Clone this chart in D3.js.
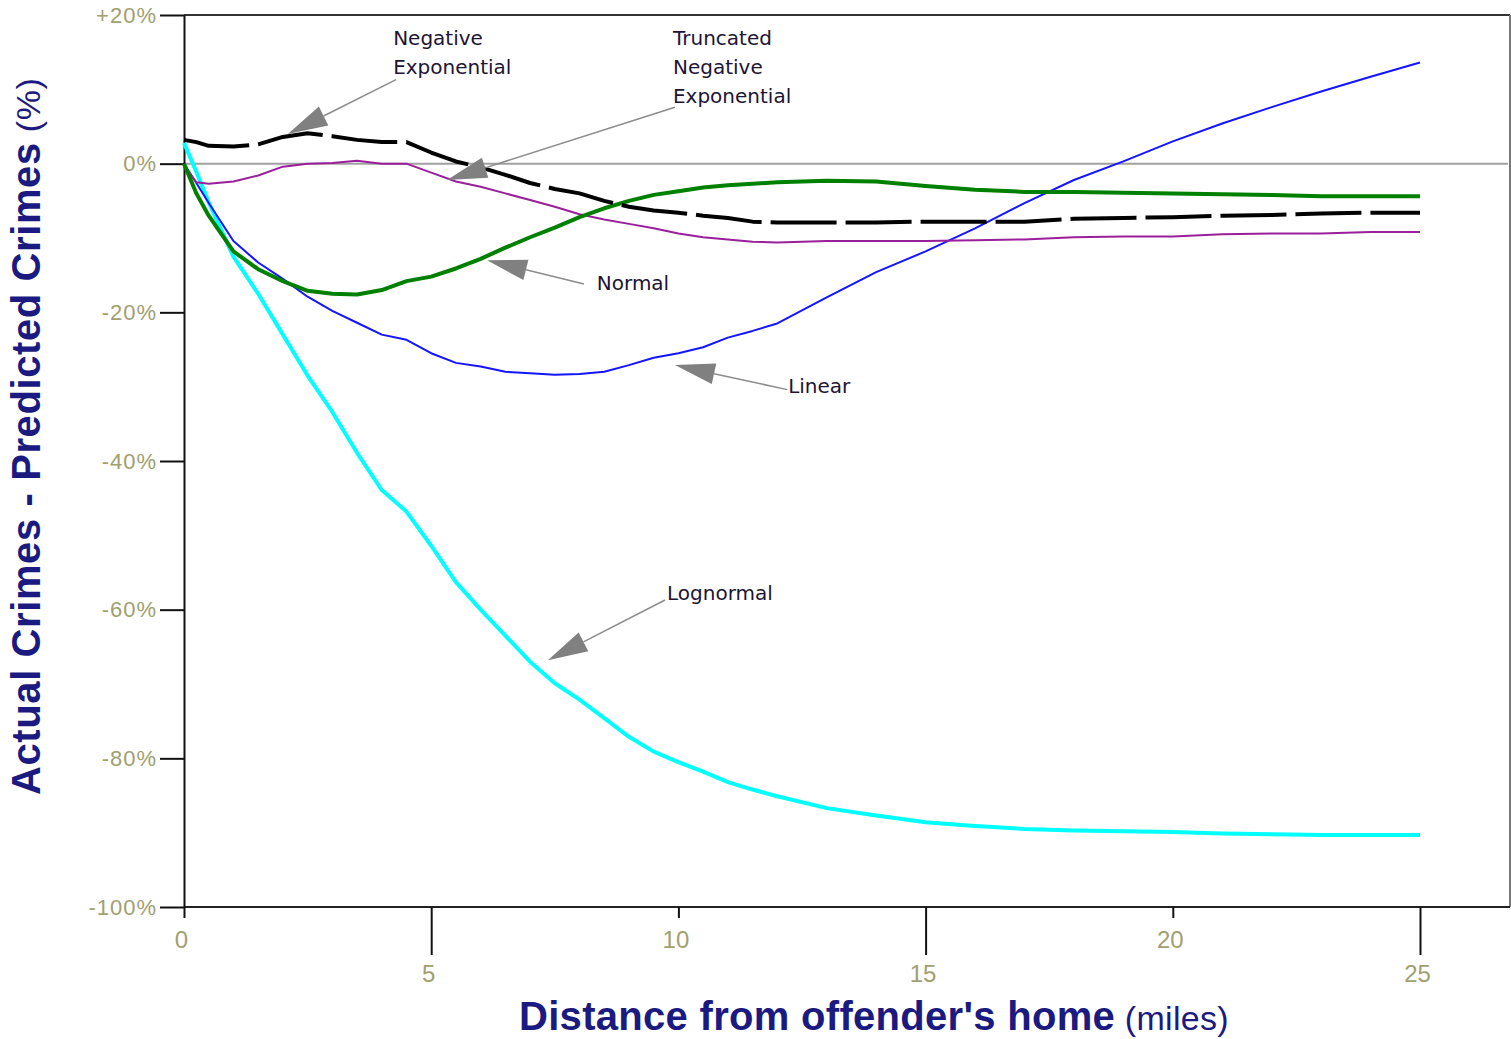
<!DOCTYPE html>
<html>
<head>
<meta charset="utf-8">
<script src="https://cdn.jsdelivr.net/npm/d3@7"></script>
<style>
    body { margin: 0; background: #fff; }
    svg { display: block; background: #fff; }
    .note { font-family: "DejaVu Sans", sans-serif; font-size: 20px; fill: #201434; }
    .axis-title { font-family: "Liberation Sans", Arial, sans-serif; fill: #1a1a80; }
</style>
</head>
<body>
<svg id="chart" width="1511" height="1039"></svg>
<script>
// distance from home (miles)
const distance = [0, 0.25, 0.5, 1, 1.5, 2, 2.5, 3, 3.5, 4, 4.5, 5, 5.5, 6, 6.5, 7, 7.5, 8, 8.5, 9, 9.5,
    10, 10.5, 11, 11.5, 12, 13, 14, 15, 16, 17, 18, 19, 20, 21, 22, 23, 24, 25];

// actual - predicted (%)
const negExponential = [3.2, 2.9, 2.4, 2.3, 2.6, 3.6, 4.1, 3.7, 3.2, 2.9, 2.9, 1.5, 0.3, -0.5, -1.5, -2.6, -3.4, -4.0, -5.0, -5.8, -6.3,
    -6.6, -7.0, -7.3, -7.8, -7.9, -7.9, -7.9, -7.8, -7.8, -7.8, -7.4, -7.3, -7.2, -7.0, -6.9, -6.7, -6.6, -6.6];
const truncNegExponential = [-0.3, -2.5, -2.7, -2.4, -1.6, -0.4, 0, 0.1, 0.4, 0, 0, -1.2, -2.4, -3.1, -4.0, -4.9, -5.8, -6.8, -7.5, -8.1, -8.7,
    -9.4, -9.9, -10.2, -10.5, -10.6, -10.4, -10.4, -10.4, -10.3, -10.2, -9.9, -9.8, -9.8, -9.5, -9.4, -9.4, -9.2, -9.2];
const normal = [0, -4.0, -7.0, -11.8, -14.2, -15.8, -17.1, -17.5, -17.6, -17.0, -15.8, -15.2, -14.1, -12.8, -11.3, -9.9, -8.6, -7.2, -6.0, -5.0, -4.2,
    -3.7, -3.2, -2.9, -2.7, -2.5, -2.3, -2.4, -3.0, -3.5, -3.8, -3.8, -3.9, -4.0, -4.1, -4.2, -4.4, -4.4, -4.4];
const linear = [0, -2.6, -5.3, -10.4, -13.3, -15.5, -17.9, -19.8, -21.4, -23.0, -23.7, -25.5, -26.8, -27.3, -28.0, -28.2, -28.4, -28.3, -28.0, -27.1, -26.1,
    -25.5, -24.7, -23.4, -22.5, -21.5, -18.0, -14.6, -11.8, -8.7, -5.3, -2.2, 0.3, 3.0, 5.4, 7.6, 9.7, 11.7, 13.6];
const lognormal = [2.8, -1.1, -5.2, -12.5, -17.5, -23.0, -28.5, -33.4, -38.9, -43.9, -46.8, -51.4, -56.3, -60.0, -63.5, -67.0, -69.9, -72.1, -74.6, -77.1, -79.1,
    -80.5, -81.8, -83.2, -84.2, -85.1, -86.7, -87.7, -88.6, -89.1, -89.5, -89.7, -89.8, -89.9, -90.1, -90.2, -90.3, -90.3, -90.3];

const xTicks = [0, 5, 10, 15, 20, 25];
const yTicks = [20, 0, -20, -40, -60, -80, -100];

// annotation labels: tip / tail / text anchor in data units
const noteLabels = [["Negative", "Exponential"], ["Truncated", "Negative", "Exponential"], ["Normal"], ["Linear"], ["Lognormal"]];
const noteTips = [[2.10, 4.0], [5.32, -2.2], [6.13, -13.0], [9.93, -27.1], [7.36, -66.8]];
const noteTails = [[4.29, 11.3], [9.93, 7.6], [8.09, -16.2], [12.2, -30.4], [9.73, -58.7]];
const noteText = [[4.23, 16.0], [9.89, 16.0], [8.35, -17.0], [12.22, -30.8], [9.77, -58.7]];

const SERIES = [
    { values: lognormal, color: "#00ffff", width: 4, dash: null },
    { values: linear, color: "#1414ff", width: 2, dash: null },
    { values: truncNegExponential, color: "#9a1f9a", width: 2, dash: null },
    { values: normal, color: "#008000", width: 4, dash: null },
    { values: negExponential, color: "#000000", width: 4, dash: "66,9" }
];

const svg = d3.select("#chart");

const x = d3.scaleLinear().domain([0, 25]).range([184, 1420]);
const y = d3.scaleLinear().domain([-100, 20]).range([907, 15]);
const rightEdge = 1510;

// frame
svg.append("path").attr("d", `M${x(0)},${y(20)}H${rightEdge}`).attr("stroke", "#333").attr("stroke-width", 2).attr("fill", "none");
svg.append("path").attr("d", `M${rightEdge},${y(20)}V${y(-100)}`).attr("stroke", "#777").attr("stroke-width", 2).attr("fill", "none");
svg.append("path").attr("d", `M${x(0)},${y(-100)}H${rightEdge}`).attr("stroke", "#222").attr("stroke-width", 2).attr("fill", "none");

// zero line
svg.append("line")
    .attr("x1", x(0)).attr("x2", rightEdge - 2)
    .attr("y1", y(0)).attr("y2", y(0))
    .attr("stroke", "#a0a0a0").attr("stroke-width", 2);

// y axis
const gY = svg.append("g")
    .attr("transform", `translate(${x(0)},0)`)
    .call(d3.axisLeft(y).tickValues(yTicks).tickSize(24).tickSizeOuter(0).tickPadding(3)
        .tickFormat(d => (d > 0 ? "+" : "") + d + "%"));
gY.select(".domain").attr("stroke", "#111").attr("stroke-width", 2);
gY.selectAll(".tick line").attr("stroke", "#111").attr("stroke-width", 2);
gY.selectAll(".tick text")
    .attr("fill", "#a0a070")
    .style("font-family", "'Liberation Sans', Arial, sans-serif")
    .style("font-size", "22px")
    .style("letter-spacing", "1px");

// x axis, staggered ticks
const gX = svg.append("g")
    .attr("transform", `translate(0,${y(-100)})`)
    .call(d3.axisBottom(x).tickValues(xTicks).tickSize(11).tickSizeOuter(0));
gX.select(".domain").remove();
gX.selectAll(".tick line").attr("stroke", "#111").attr("stroke-width", 2);
gX.selectAll(".tick").each(function(d, i) {
    const t = d3.select(this);
    if (i % 2 === 1) t.select("line").attr("y2", 48);
    t.select("text")
        .attr("x", -3)
        .attr("y", i % 2 === 1 ? 75 : 41)
        .attr("dy", 0)
        .attr("fill", "#a0a070")
        .style("font-family", "'Liberation Sans', Arial, sans-serif")
        .style("font-size", "24px");
});

// curves
const line = d3.line()
    .x((d, i) => x(distance[i]))
    .y(d => y(d));

svg.append("g").selectAll("path")
    .data(SERIES)
    .join("path")
    .attr("d", s => line(s.values))
    .attr("fill", "none")
    .attr("stroke", s => s.color)
    .attr("stroke-width", s => s.width)
    .attr("stroke-dasharray", s => s.dash)
    .attr("stroke-linejoin", "round");

// annotations
const notes = svg.append("g");
noteLabels.forEach((lines, i) => {
    const tip = [x(noteTips[i][0]), y(noteTips[i][1])];
    const tail = [x(noteTails[i][0]), y(noteTails[i][1])];
    const dx = tail[0] - tip[0], dy = tail[1] - tip[1];
    const len = Math.hypot(dx, dy);
    const ux = dx / len, uy = dy / len;
    const headLen = 40, half = 10.5;
    const base = [tip[0] + ux * headLen, tip[1] + uy * headLen];

    notes.append("line")
        .attr("x1", base[0]).attr("y1", base[1])
        .attr("x2", tail[0]).attr("y2", tail[1])
        .attr("stroke", "#8c8c8c").attr("stroke-width", 1.5);

    notes.append("path")
        .attr("d", `M${tip[0]},${tip[1]}L${base[0] - uy * half},${base[1] + ux * half}L${base[0] + uy * half},${base[1] - ux * half}Z`)
        .attr("fill", "#808080");

    const txt = notes.append("text")
        .attr("class", "note")
        .attr("x", x(noteText[i][0]))
        .attr("y", y(noteText[i][1]));
    lines.forEach((l, j) => {
        txt.append("tspan")
            .attr("x", x(noteText[i][0]))
            .attr("dy", j === 0 ? 0 : 29)
            .text(l);
    });
});

// axis titles
const yTitle = svg.append("text")
    .attr("class", "axis-title")
    .attr("transform", `translate(40,795) rotate(-90)`)
    .style("letter-spacing", "0.6px");
yTitle.append("tspan").style("font-size", "40px").style("font-weight", "bold").text("Actual Crimes - Predicted Crimes");
yTitle.append("tspan").style("font-size", "34px").text(" (%)");

const xTitle = svg.append("text")
    .attr("class", "axis-title")
    .attr("x", 519)
    .attr("y", 1030)
    .style("letter-spacing", "0.3px");
xTitle.append("tspan").style("font-size", "40px").style("font-weight", "bold").text("Distance from offender's home");
xTitle.append("tspan").style("font-size", "34px").text(" (miles)");
</script>
</body>
</html>
